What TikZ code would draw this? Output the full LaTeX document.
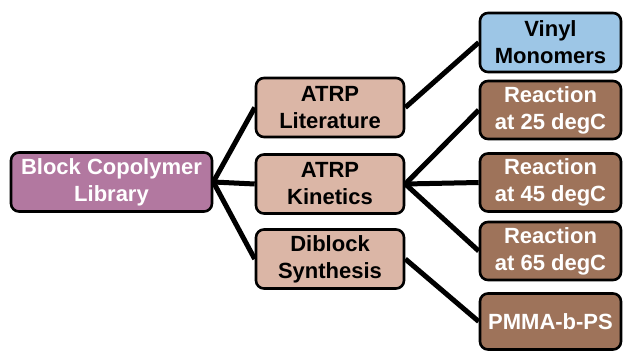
\documentclass[tikz,border=0pt]{standalone}
\usepackage{fontspec}
\setmainfont{Liberation Sans}
\definecolor{rootc}{HTML}{B278A0}
\definecolor{midc}{HTML}{DBB6A6}
\definecolor{bluec}{HTML}{9DC6E6}
\definecolor{brownc}{HTML}{9E735A}
\begin{document}
\begin{tikzpicture}[x=1pt,y=-1pt,
  box/.style={draw=black, line width=2.6pt, rounded corners=8pt, align=center,
    font=\fontsize{22}{27}\selectfont\bfseries, inner sep=0pt},
  rootbox/.style={box, fill=rootc, text=white, minimum width=201pt, minimum height=59pt},
  midbox/.style={box, fill=midc, text=black, minimum width=148pt, minimum height=59pt},
  bluebox/.style={box, fill=bluec, text=black, minimum width=141pt, minimum height=59pt},
  brownbox/.style={box, fill=brownc, text=white, minimum width=141pt, minimum height=58pt},
  conn/.style={line width=5pt, black}]
\useasboundingbox (0,0) rectangle (623,352);
\node[rootbox] (root) at (111.5,182) {Block Copolymer\\Library};
\node[midbox] (lit) at (330,107.5) {ATRP\\Literature};
\node[midbox] (kin) at (330,184) {ATRP\\Kinetics};
\node[midbox] (dib) at (330,259) {Diblock\\Synthesis};
\node[bluebox] (vin) at (550.5,42.5) {Vinyl\\Monomers};
\node[brownbox] (r25) at (550.5,110) {Reaction\\at 25 degC};
\node[brownbox] (r45) at (550.5,182.5) {Reaction\\at 45 degC};
\node[brownbox] (r65) at (550.5,251) {Reaction\\at 65 degC};
\node[brownbox, minimum height=56pt] (pmma) at (550.5,321.5) {PMMA-b-PS};
\draw[conn] (root.east) -- (lit.west);
\draw[conn] (root.east) -- (kin.west);
\draw[conn] (root.east) -- (dib.west);
\draw[conn] (lit.east) -- (vin.west);
\draw[conn] (kin.east) -- (r25.west);
\draw[conn] (kin.east) -- (r45.west);
\draw[conn] (kin.east) -- (r65.west);
\draw[conn] (dib.east) -- (pmma.west);
\end{tikzpicture}
\end{document}
